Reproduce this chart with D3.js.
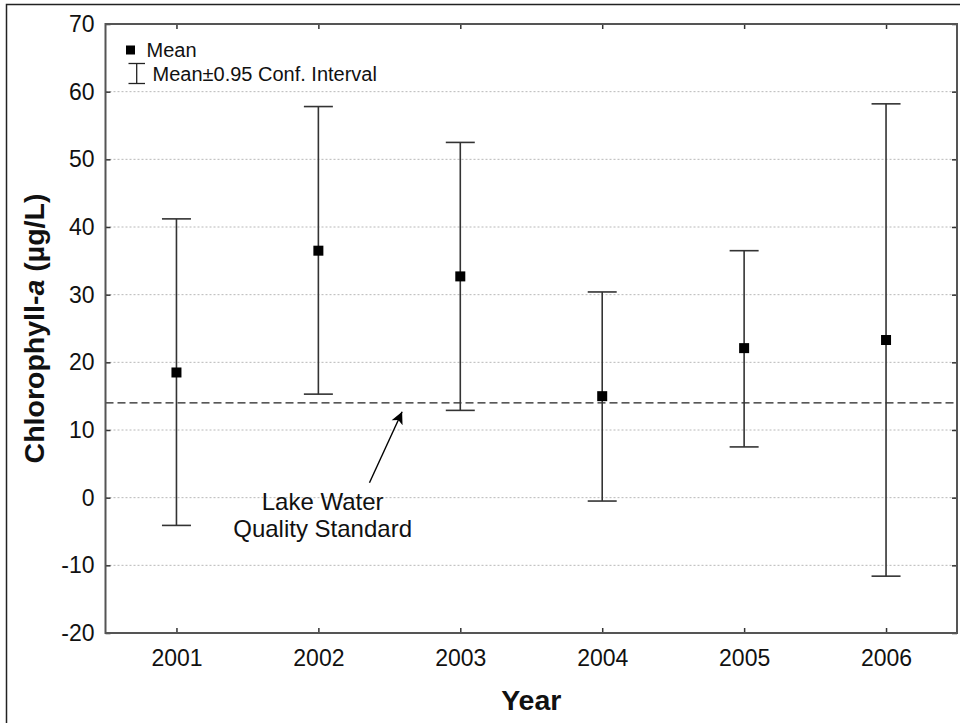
<!DOCTYPE html>
<html>
<head>
<meta charset="utf-8">
<script src="https://cdn.jsdelivr.net/npm/d3@7"></script>
<style>
  html, body { margin: 0; padding: 0; background: #fff; }
  svg { display: block; font-family: "Liberation Sans", Arial, sans-serif; }
</style>
</head>
<body>
<svg id="chart" width="960" height="723"></svg>
<script>
// ---- data ----
const years = [2001, 2002, 2003, 2004, 2005, 2006];
const means = [18.5, 36.5, 32.7, 15.0, 22.1, 23.3];
const lower = [-4.1, 15.3, 12.9, -0.5, 7.5, -11.6];
const upper = [41.2, 57.8, 52.5, 30.4, 36.5, 58.2];
const yTicks = [-20, -10, 0, 10, 20, 30, 40, 50, 60, 70];
const standard = 14;
const annotationLines = ["Lake Water", "Quality Standard"];
const arrowFrom = [2002.36, 2.2];
const arrowTo = [2002.59, 12.7];
const annotationAt = [2002.03, 0];
const legendItems = ["Mean", "Mean\u00B10.95 Conf. Interval"];

// ---- layout ----
const svg = d3.select("#chart");
const L = 105.5, R = 957, T = 24, B = 633;

const x = d3.scaleLinear().domain([2000.5, 2006.5]).range([L, R]);
const y = d3.scaleLinear().domain([-20, 70]).range([B, T]);

// outer border
svg.append("rect").attr("x", 6.5).attr("y", 4.5).attr("width", 1000).attr("height", 1000)
  .attr("fill", "none").attr("stroke", "#222").attr("stroke-width", 1.5);

const defs = svg.append("defs");

// gridlines
svg.append("g").selectAll("line")
  .data(yTicks.filter(d => d > -20 && d < 70))
  .join("line")
  .attr("x1", L).attr("x2", R)
  .attr("y1", d => y(d)).attr("y2", d => y(d))
  .attr("stroke", "#b8b8b8").attr("stroke-width", 1)
  .attr("stroke-dasharray", "2,2");

// standard line
svg.append("line")
  .attr("x1", L).attr("x2", R)
  .attr("y1", y(standard)).attr("y2", y(standard))
  .attr("stroke", "#222").attr("stroke-width", 1.3)
  .attr("stroke-dasharray", "8,4");

// axes with inward ticks
const tickLen = 5;
const styleAxis = g => { g.select(".domain").remove(); g.selectAll("line").attr("stroke", "#333").attr("stroke-width", 1.5); };
svg.append("g").attr("transform", `translate(${L},0)`)
  .call(d3.axisLeft(y).tickValues(yTicks).tickFormat(d => String(d)).tickSize(-tickLen).tickPadding(11))
  .call(styleAxis);
svg.append("g").attr("transform", `translate(${R},0)`)
  .call(d3.axisRight(y).tickValues(yTicks).tickSize(-tickLen).tickFormat(""))
  .call(styleAxis);
svg.append("g").attr("transform", `translate(0,${B})`)
  .call(d3.axisBottom(x).tickValues(years).tickFormat(d => String(d)).tickSize(-tickLen).tickPadding(17))
  .call(styleAxis);
svg.append("g").attr("transform", `translate(0,${T})`)
  .call(d3.axisTop(x).tickValues(years).tickSize(-tickLen).tickFormat(""))
  .call(styleAxis);

svg.selectAll(".tick text")
  .attr("font-family", "'Liberation Sans', Arial, sans-serif")
  .attr("font-size", 23).attr("fill", "#111");

// frame
svg.append("rect").attr("x", L).attr("y", T).attr("width", R - L).attr("height", B - T)
  .attr("fill", "none").attr("stroke", "#555").attr("stroke-width", 2);

// error bars
const capW = 29;
const bars = svg.append("g");
years.forEach((yr, i) => {
  bars.append("line").attr("x1", x(yr)).attr("x2", x(yr))
    .attr("y1", y(lower[i])).attr("y2", y(upper[i]))
    .attr("stroke", "#333").attr("stroke-width", 1.6);
  [lower[i], upper[i]].forEach(v => {
    bars.append("line").attr("x1", x(yr) - capW / 2).attr("x2", x(yr) + capW / 2)
      .attr("y1", y(v)).attr("y2", y(v))
      .attr("stroke", "#333").attr("stroke-width", 1.6);
  });
});

// means
const sq = 10;
svg.append("g").selectAll("rect")
  .data(years.map((yr, i) => ({ yr, m: means[i] })))
  .join("rect")
  .attr("x", d => x(d.yr) - sq / 2).attr("y", d => y(d.m) - sq / 2)
  .attr("width", sq).attr("height", sq).attr("fill", "#000");

// legend
const lg = svg.append("g");
lg.append("rect").attr("x", 126).attr("y", 45.5).attr("width", 9).attr("height", 9).attr("fill", "#000");
lg.append("text").attr("x", 146.5).attr("y", 57).attr("font-size", 20).attr("fill", "#111").text(legendItems[0]);
lg.append("line").attr("x1", 136.7).attr("x2", 136.7).attr("y1", 63.5).attr("y2", 83.5).attr("stroke", "#222").attr("stroke-width", 1.3);
lg.append("line").attr("x1", 128.5).attr("x2", 145).attr("y1", 63.5).attr("y2", 63.5).attr("stroke", "#222").attr("stroke-width", 1.3);
lg.append("line").attr("x1", 128.5).attr("x2", 145).attr("y1", 83.5).attr("y2", 83.5).attr("stroke", "#222").attr("stroke-width", 1.3);
lg.append("text").attr("x", 152.5).attr("y", 81).attr("font-size", 20).attr("fill", "#111").text(legendItems[1]);

// annotation
defs.append("marker").attr("id", "ah").attr("viewBox", "0 0 10 10")
  .attr("refX", 10).attr("refY", 5).attr("markerWidth", 19).attr("markerHeight", 12)
  .attr("markerUnits", "userSpaceOnUse").attr("orient", "auto")
  .append("path").attr("d", "M0,0 L10,5 L0,10 L2.5,5 Z").attr("fill", "#000");
svg.append("line")
  .attr("x1", x(arrowFrom[0])).attr("y1", y(arrowFrom[1]))
  .attr("x2", x(arrowTo[0])).attr("y2", y(arrowTo[1]))
  .attr("stroke", "#000").attr("stroke-width", 1.4).attr("marker-end", "url(#ah)");
const at = svg.append("text").attr("text-anchor", "middle").attr("font-size", 24).attr("fill", "#111");
annotationLines.forEach((t, i) => {
  at.append("tspan").attr("x", x(annotationAt[0])).attr("y", y(annotationAt[1]) + 12 + i * 27).text(t);
});

// axis titles
svg.append("text").attr("x", (L + R) / 2).attr("y", 710).attr("text-anchor", "middle")
  .attr("font-size", 28.5).attr("font-weight", "bold").attr("fill", "#111").text("Year");
const yt = svg.append("text").attr("transform", `translate(44,${(T + B) / 2}) rotate(-90)`)
  .attr("text-anchor", "middle").attr("font-size", 28.5).attr("font-weight", "bold").attr("fill", "#111");
yt.append("tspan").text("Chlorophyll-");
yt.append("tspan").attr("font-style", "italic").text("a");
yt.append("tspan").text(" (\u00B5g/L)");
</script>
</body>
</html>
